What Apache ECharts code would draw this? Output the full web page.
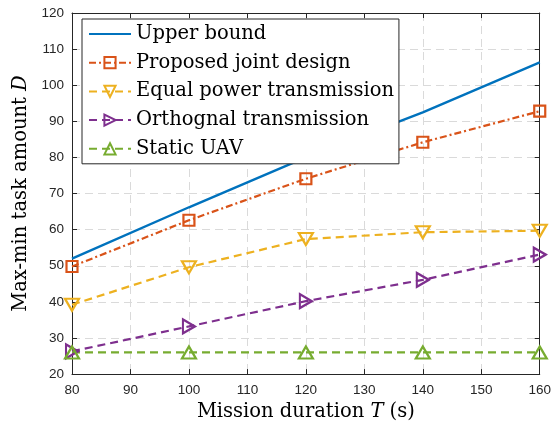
<!DOCTYPE html>
<html>
<head>
<meta charset="utf-8">
<script src="https://cdn.jsdelivr.net/npm/echarts@6/dist/echarts.min.js"></script>
<style>
  html, body { margin: 0; padding: 0; background: #fff; }
  #chart { width: 554px; height: 427px; }
</style>
</head>
<body>
<div id="chart"></div>
<script>
  // mission duration T (s)
  var durations = [80, 100, 120, 140, 160];
  var upperBound = [52, 66.2, 80, 92.5, 106.3];
  var proposed = [49.8, 62.6, 74.1, 84.2, 92.8];
  var equalPower = [39.2, 49.6, 57.4, 59.3, 59.7];
  var orthogonal = [26.3, 33.2, 40.2, 46.1, 53.1];
  var staticUav = [26, 26, 26, 26, 26];

  var serif = 'DejaVu Serif';
  var axisColor = '#262626';

  function pairs(vals) {
    return durations.map(function (t, i) { return [t, vals[i]]; });
  }

  function markerSeries(name, vals, color, dash, symbol, size, rotate) {
    return {
      name: name,
      type: 'line',
      data: pairs(vals),
      symbol: symbol,
      symbolSize: size,
      symbolRotate: rotate,
      lineStyle: {color: color, width: 2.2, type: dash},
      itemStyle: {color: 'rgba(255,255,255,0)', borderColor: color, borderWidth: 2.2},
      emphasis: {disabled: true},
      z: 3
    };
  }

  var myChart = echarts.init(document.getElementById('chart'));
  myChart.setOption({
    animation: false,
    grid: {left: 72, right: 14, top: 13, bottom: 49, containLabel: false},
    legend: {
      orient: 'vertical',
      left: 82,
      top: 19,
      padding: [5, 5, 5, 6],
      itemWidth: 42,
      itemHeight: 14,
      itemGap: 8.7,
      backgroundColor: '#fff',
      borderColor: axisColor,
      borderWidth: 1,
      borderRadius: 0,
      textStyle: {fontFamily: serif, fontSize: 19.5, color: '#000', lineHeight: 20},
      data: ['Upper bound', 'Proposed joint design', 'Equal power transmission',
        'Orthognal transmission', 'Static UAV']
    },
    xAxis: [{
      type: 'value',
      min: 80,
      max: 160,
      interval: 10,
      name: 'Mission duration {i|T} (s)',
      nameLocation: 'middle',
      nameGap: 22,
      nameTextStyle: {
        fontFamily: serif, fontSize: 19.5, color: '#000', verticalAlign: 'top',
        rich: {i: {fontFamily: serif, fontSize: 19.5, fontStyle: 'italic', color: '#000'}}
      },
      axisLine: {show: true, lineStyle: {color: axisColor, width: 1}},
      axisTick: {show: true, inside: true, length: 5, lineStyle: {color: axisColor}},
      axisLabel: {color: axisColor, fontFamily: 'Liberation Sans', fontSize: 13.5, margin: 9},
      splitLine: {show: true, lineStyle: {color: '#dadada', type: [8, 5], width: 1}}
    }, {
      type: 'value',
      position: 'top',
      min: 80,
      max: 160,
      interval: 10,
      axisLine: {show: true, lineStyle: {color: axisColor, width: 1}},
      axisTick: {show: true, inside: true, length: 5, lineStyle: {color: axisColor}},
      axisLabel: {show: false},
      splitLine: {show: false}
    }],
    yAxis: [{
      type: 'value',
      min: 20,
      max: 120,
      interval: 10,
      name: 'Max-min task amount {i|D}',
      nameLocation: 'middle',
      nameGap: 40,
      nameTextStyle: {
        fontFamily: serif, fontSize: 19.5, color: '#000',
        rich: {i: {fontFamily: serif, fontSize: 19.5, fontStyle: 'italic', color: '#000'}}
      },
      axisLine: {show: true, lineStyle: {color: axisColor, width: 1}},
      axisTick: {show: true, inside: true, length: 5, lineStyle: {color: axisColor}},
      axisLabel: {color: axisColor, fontFamily: 'Liberation Sans', fontSize: 13.5, margin: 8},
      splitLine: {show: true, lineStyle: {color: '#dadada', type: [8, 5], width: 1}}
    }, {
      type: 'value',
      position: 'right',
      min: 20,
      max: 120,
      interval: 10,
      axisLine: {show: true, lineStyle: {color: axisColor, width: 1}},
      axisTick: {show: true, inside: true, length: 5, lineStyle: {color: axisColor}},
      axisLabel: {show: false},
      splitLine: {show: false}
    }],
    series: [
      {
        name: 'Upper bound',
        type: 'line',
        data: pairs(upperBound),
        showSymbol: false,
        symbol: 'circle',
        lineStyle: {color: '#0072BD', width: 2.4, type: 'solid'},
        // transparent fill so the legend shows only the line
        itemStyle: {color: 'rgba(0,0,0,0)', borderWidth: 0},
        emphasis: {disabled: true},
        z: 3
      },
      markerSeries('Proposed joint design', proposed, '#D95319', [7, 3, 2, 3], 'rect', 11, 0),
      markerSeries('Equal power transmission', equalPower, '#EDB120', [8, 5], 'triangle', [14, 12], 180),
      markerSeries('Orthognal transmission', orthogonal, '#7E2F8E', [8, 5], 'triangle', [14, 12], -90),
      markerSeries('Static UAV', staticUav, '#77AC30', [8, 5], 'triangle', [14, 12], 0)
    ]
  });
</script>
</body>
</html>
